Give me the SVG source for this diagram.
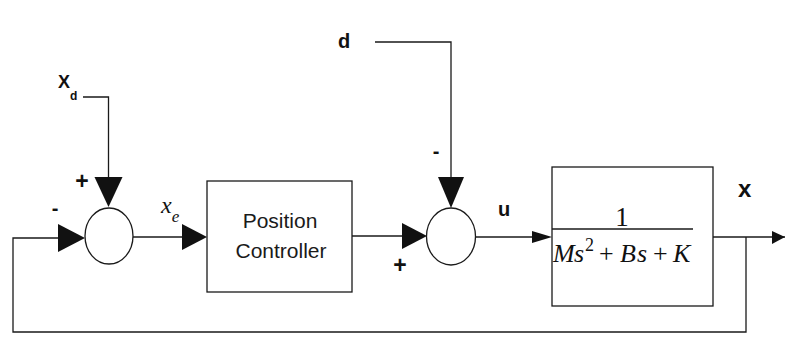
<svg xmlns="http://www.w3.org/2000/svg" width="785" height="343" viewBox="0 0 785 343">
<style>
.ln{fill:none;stroke:#1a1a1a;stroke-width:1.3}
.blk{fill:#fff;stroke:#1a1a1a;stroke-width:1.3}
.ah{fill:#111;stroke:none}
.lb{font-family:"Liberation Sans",Arial,sans-serif;font-weight:bold;fill:#111}
.sans{font-family:"Liberation Sans",Arial,sans-serif;fill:#1a1a1a}
.math{font-family:"Liberation Serif","Times New Roman",serif;fill:#111}
</style>
<rect width="785" height="343" fill="#fff"/>
<g id="connectors">
  <polyline class="ln" points="83,97 108.5,97 108.5,190"/>
  <polygon class="ah" points="94.5,177 122.5,177 108.5,207"/>
  <polyline class="ln" points="713,237 785,237"/>
  <polyline class="ln" points="746,237 746,332 13,332 13,238 70,238"/>
  <polygon class="ah" points="58,224 85,238 58,252"/>
  <line class="ln" x1="133" y1="237" x2="195" y2="237"/>
  <polygon class="ah" points="182,224 207,237 182,250"/>
  <line class="ln" x1="352" y1="236" x2="415" y2="236"/>
  <polygon class="ah" points="402,223 427,236 402,249"/>
  <polyline class="ln" points="375,42 451,42 451,190"/>
  <polygon class="ah" points="438,177 464,177 451,208"/>
  <line class="ln" x1="476" y1="237" x2="540" y2="237"/>
  <polygon class="ah" points="532,231 552,237 532,243"/>
  <polygon class="ah" points="772,231 785,237 772,244"/>
</g>
<g id="sum1">
  <ellipse class="blk" cx="109" cy="236" rx="24" ry="28"/>
  <text class="lb" x="82" y="189" font-size="23" text-anchor="middle">+</text>
  <text class="lb" x="55" y="215" font-size="20" text-anchor="middle">-</text>
</g>
<g id="input-xd">
  <text class="lb" x="58" y="88" font-size="18">X<tspan font-size="12" dy="12">d</tspan></text>
</g>
<g id="label-xe">
  <text class="math" x="161" y="213" font-size="24" font-style="italic">x<tspan font-size="17" dy="9">e</tspan></text>
</g>
<g id="controller">
  <rect class="blk" x="207" y="181" width="145" height="111"/>
  <text class="sans" x="280" y="228" font-size="21" text-anchor="middle">Position</text>
  <text class="sans" x="281" y="258" font-size="21" text-anchor="middle">Controller</text>
</g>
<g id="input-d">
  <text class="lb" x="338" y="48" font-size="20">d</text>
</g>
<g id="sum2">
  <ellipse class="blk" cx="451" cy="236.5" rx="24.5" ry="28.5"/>
  <text class="lb" x="436" y="158" font-size="20" text-anchor="middle">-</text>
  <text class="lb" x="400" y="273" font-size="23" text-anchor="middle">+</text>
</g>
<g id="label-u">
  <text class="lb" x="498" y="216" font-size="20">u</text>
</g>
<g id="plant">
  <rect class="blk" x="552" y="167" width="161" height="139"/>
  <line class="ln" x1="552" y1="229" x2="693" y2="229"/>
  <text class="math" x="622" y="226" font-size="27" text-anchor="middle">1</text>
  <text class="math" y="262" font-size="26"><tspan x="553" font-style="italic">M</tspan><tspan x="574" font-style="italic">s</tspan><tspan x="585" y="251" font-size="18">2</tspan><tspan x="599" y="262">+</tspan><tspan x="620" font-style="italic">B</tspan><tspan x="637" font-style="italic">s</tspan><tspan x="653">+</tspan><tspan x="673" font-style="italic">K</tspan></text>
</g>
<g id="output-x">
  <text class="lb" x="738" y="197" font-size="24">x</text>
</g>
</svg>
